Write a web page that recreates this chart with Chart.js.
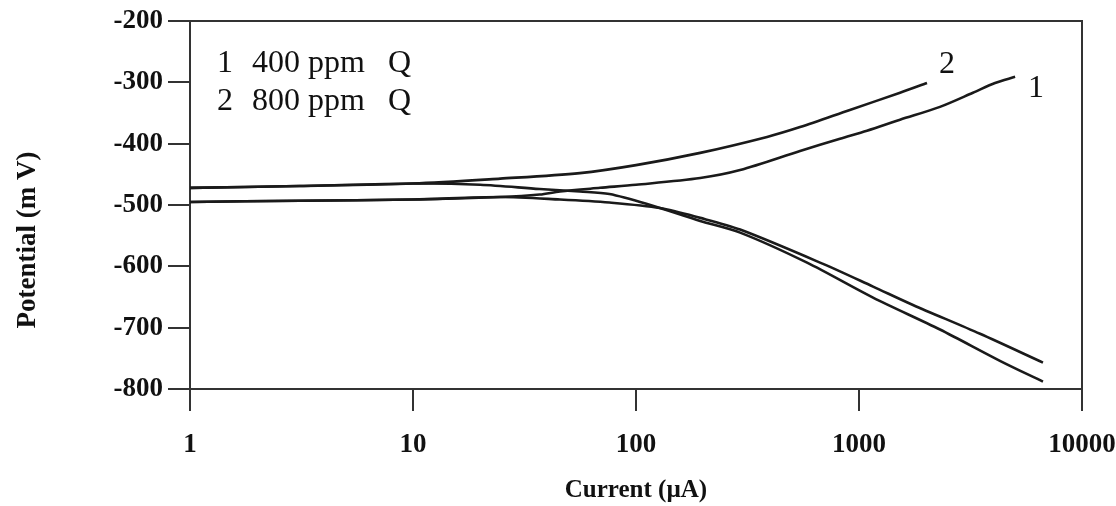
<!DOCTYPE html>
<html>
<head>
<meta charset="utf-8">
<script src="https://cdn.jsdelivr.net/npm/chart.js@4.4.1/dist/chart.umd.min.js"></script>
<style>
  body { margin: 0; background: #fff; }
</style>
</head>
<body>
<canvas id="tafel" width="1116" height="506"></canvas>
<script>
// curve 1: 400 ppm Q
const c1AnodicI = [1, 3.1, 10, 24.6, 37, 45.6, 69, 100, 194, 293, 544, 822, 1086, 1528, 2307, 3243, 4074, 5012];
const c1AnodicE = [-495, -493, -491, -487, -483, -478, -472, -467, -456, -443, -412, -392, -379, -361, -340, -317, -301, -291];
const c1CathodicI = [1, 3.1, 10, 24.6, 45.6, 76, 128, 194, 293, 690, 1156, 1746, 3490, 6683];
const c1CathodicE = [-495, -493, -491, -487, -491, -496, -505, -521, -540, -596, -633, -663, -710, -757];

// curve 2: 800 ppm Q
const c2AnodicI = [1, 3.1, 10, 24.6, 56, 100, 194, 387, 544, 910, 1528, 2018];
const c2AnodicE = [-472, -469, -465, -457, -448, -435, -415, -389, -373, -345, -317, -301];
const c2CathodicI = [1, 3.1, 10, 20, 37, 56, 76, 116, 194, 293, 585, 1156, 2307, 4285, 6683];
const c2CathodicE = [-472, -469, -465, -467, -474, -478, -482, -500, -526, -545, -594, -651, -703, -754, -788];

const xTicks = [1, 10, 100, 1000, 10000];
const yMin = -800, yMax = -200, yStep = 100;

const legendNums = ['1', '2'];
const legendText = ['400 ppm', '800 ppm'];

const serif = "'Liberation Serif', 'Times New Roman', serif";
const ink = '#1a1a1a';

const toPoints = (xs, ys) => xs.map((x, i) => ({ x: x, y: ys[i] }));

const branch = (label, xs, ys) => ({
    label: label,
    data: toPoints(xs, ys),
    showLine: true,
    borderColor: ink,
    borderWidth: 2.6,
    pointRadius: 0,
    tension: 0.3,
    fill: false
});

// box on top/right, legend text, curve numbers and y title
const annotate = {
    id: 'annotate',
    afterDraw(chart) {
        const { ctx, chartArea: a } = chart;
        ctx.save();
        ctx.strokeStyle = '#333';
        ctx.lineWidth = 2;
        ctx.beginPath();
        ctx.moveTo(a.left, a.top);
        ctx.lineTo(a.right, a.top);
        ctx.lineTo(a.right, a.bottom);
        ctx.stroke();

        ctx.fillStyle = '#111';
        ctx.font = '32px ' + serif;
        ctx.textBaseline = 'alphabetic';
        ctx.textAlign = 'left';
        legendNums.forEach((n, i) => {
            const y = 72 + i * 38;
            ctx.fillText(n, 217, y);
            ctx.fillText(legendText[i], 252, y);
            ctx.fillText('Q', 388, y);
        });
        ctx.fillText('2', 939, 73);
        ctx.fillText('1', 1028, 97);

        ctx.font = 'bold 27px ' + serif;
        ctx.textAlign = 'center';
        ctx.textBaseline = 'middle';
        ctx.translate(28, 240);
        ctx.rotate(-Math.PI / 2);
        ctx.fillText('Potential (m V)', 0, 0);
        ctx.restore();
    }
};

new Chart(document.getElementById('tafel'), {
    type: 'scatter',
    data: {
        datasets: [
            branch('400 ppm anodic', c1AnodicI, c1AnodicE),
            branch('400 ppm cathodic', c1CathodicI, c1CathodicE),
            branch('800 ppm anodic', c2AnodicI, c2AnodicE),
            branch('800 ppm cathodic', c2CathodicI, c2CathodicE)
        ]
    },
    options: {
        responsive: false,
        animation: false,
        layout: { padding: { left: 10, right: 34, top: 21, bottom: 0 } },
        plugins: { legend: { display: false }, tooltip: { enabled: false } },
        scales: {
            x: {
                type: 'logarithmic',
                min: 1,
                max: 10000,
                afterBuildTicks: (scale) => { scale.ticks = xTicks.map(v => ({ value: v })); },
                afterFit: (scale) => {
                    scale.height = 117;
                    scale.paddingLeft = 0;
                    scale.paddingRight = 0;
                },
                grid: { drawOnChartArea: false, drawTicks: true, tickLength: 22, color: '#333', lineWidth: 2 },
                border: { color: '#333', width: 2 },
                ticks: {
                    padding: 18,
                    color: '#111',
                    font: { family: serif, size: 27, weight: 'bold' },
                    callback: (v) => String(v),
                    maxRotation: 0
                },
                title: {
                    display: true,
                    text: 'Current (µA)',
                    color: '#111',
                    font: { family: serif, size: 25, weight: 'bold' },
                    padding: { top: 0, bottom: 0 }
                }
            },
            y: {
                min: yMin,
                max: yMax,
                afterFit: (scale) => {
                    scale.width = 180;
                    scale.paddingTop = 0;
                    scale.paddingBottom = 0;
                },
                grid: { drawOnChartArea: false, drawTicks: true, tickLength: 22, color: '#333', lineWidth: 2 },
                border: { color: '#333', width: 2 },
                ticks: {
                    stepSize: yStep,
                    padding: 5,
                    color: '#111',
                    font: { family: serif, size: 27, weight: 'bold' },
                    callback: (v) => String(v)
                }
            }
        }
    },
    plugins: [annotate]
});
</script>
</body>
</html>
